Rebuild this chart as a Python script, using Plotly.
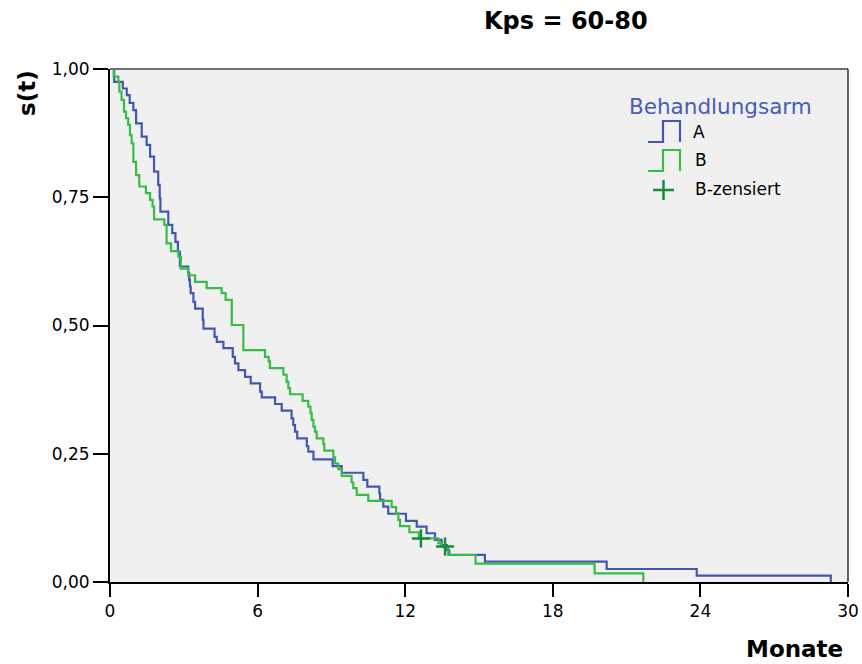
import plotly.graph_objects as go

# ---------------- data ----------------
# Arm A: event times (months) and survival after each step
a_time = [0, 0.17, 0.52, 0.68, 0.80, 0.95, 1.06, 1.29, 1.49, 1.63, 1.79, 1.96, 2.02, 2.05,
          2.37, 2.53, 2.66, 2.76, 2.84, 3.18, 3.22, 3.25, 3.28, 3.39, 3.46, 3.77, 3.80,
          4.25, 4.34, 4.61, 4.99, 5.08, 5.22, 5.49, 5.72, 6.10, 6.17, 6.71, 6.98,
          7.38, 7.45, 7.52, 7.61, 8.00, 8.06, 8.27, 9.05, 9.42, 10.30, 10.46, 10.95,
          10.98, 11.11, 11.31, 12.03, 12.47, 12.87, 13.21, 13.48, 13.69, 13.79,
          15.24, 20.19, 23.85, 29.30]
a_surv = [1.0, 0.975, 0.962, 0.949, 0.934, 0.920, 0.894, 0.868, 0.852, 0.829, 0.800, 0.774, 0.748, 0.722,
          0.696, 0.680, 0.663, 0.644, 0.615, 0.602, 0.589, 0.576, 0.563, 0.546, 0.533, 0.511, 0.494,
          0.478, 0.468, 0.456, 0.439, 0.426, 0.413, 0.400, 0.387, 0.371, 0.360, 0.347, 0.334,
          0.319, 0.306, 0.293, 0.280, 0.265, 0.254, 0.239, 0.226, 0.213, 0.199, 0.186, 0.173,
          0.160, 0.147, 0.133, 0.119, 0.108, 0.095, 0.082, 0.072, 0.062, 0.053,
          0.0396, 0.0253, 0.0123, 0.0]

# Arm B
b_time = [0, 0.15, 0.34, 0.38, 0.47, 0.57, 0.65, 0.74, 0.81, 0.88, 0.95, 1.06, 1.19, 1.46, 1.63,
          1.73, 1.79, 2.21, 2.30, 2.48, 2.78, 2.88, 3.18, 3.46, 3.93, 4.54, 4.70, 4.95, 5.42,
          6.30, 6.45, 6.50, 7.05, 7.18, 7.25, 7.32, 7.83, 8.06, 8.15, 8.20, 8.27, 8.33, 8.40,
          8.67, 8.71, 9.08, 9.15, 9.28, 9.42, 9.82, 9.89, 10.03, 10.50, 11.45, 11.63, 11.72,
          11.79, 12.17, 12.55, 13.35, 13.48, 13.75, 14.86, 19.70, 21.68]
b_surv = [1.0, 0.985, 0.975, 0.956, 0.940, 0.917, 0.904, 0.891, 0.871, 0.855, 0.819, 0.793, 0.771, 0.758, 0.745,
          0.732, 0.707, 0.696, 0.660, 0.645, 0.634, 0.611, 0.598, 0.585, 0.573, 0.563, 0.550, 0.501, 0.452,
          0.439, 0.430, 0.417, 0.404, 0.390, 0.378, 0.366, 0.353, 0.342, 0.329, 0.316, 0.303, 0.293, 0.280,
          0.269, 0.256, 0.243, 0.231, 0.220, 0.207, 0.194, 0.183, 0.170, 0.158, 0.146, 0.134, 0.121,
          0.109, 0.097, 0.085, 0.0754, 0.069, 0.0526, 0.036, 0.017, 0.0]

# Censored observations in arm B
b_cens_time = [12.64, 13.62]
b_cens_surv = [0.085, 0.069]

x_ticks = [0, 6, 12, 18, 24, 30]
y_ticks = [0, 0.25, 0.5, 0.75, 1.0]
y_ticktext = ["0,00", "0,25", "0,50", "0,75", "1,00"]

title_text = "Kps = 60-80"
x_label = "Monate"
y_label = "s(t)"
legend_title = "Behandlungsarm"
legend_labels = ["A", "B", "B-zensiert"]

# ---------------- style ----------------
BLUE = "#4457b0"
GREEN = "#38bc48"
DGREEN = "#1b8a3e"
FONT = "DejaVu Sans"

W, H = 862, 664
L, R, T, B = 110, 848, 69, 582


def px(xp):
    return (xp - L) / (R - L)


def py(yp):
    return (B - yp) / (B - T)


fig = go.Figure()
fig.add_trace(go.Scatter(x=a_time, y=a_surv, mode="lines", line=dict(color=BLUE, width=2.2, shape="hv"),
                         showlegend=False, name=legend_labels[0]))
fig.add_trace(go.Scatter(x=b_time, y=b_surv, mode="lines", line=dict(color=GREEN, width=2.2, shape="hv"),
                         showlegend=False, name=legend_labels[1]))
fig.add_trace(go.Scatter(x=b_cens_time, y=b_cens_surv, mode="markers",
                         marker=dict(symbol="cross-thin", size=13, line=dict(color=DGREEN, width=2.5)),
                         showlegend=False, name=legend_labels[2]))

shapes = []
# plot frame: top gray, right dark
shapes.append(dict(type="line", xref="paper", yref="paper", x0=0, x1=1, y0=1, y1=1,
                   line=dict(color="#707070", width=2), layer="above"))
shapes.append(dict(type="line", xref="paper", yref="paper", x0=1, x1=1, y0=0, y1=1,
                   line=dict(color="#303030", width=1.5), layer="above"))


def step_icon(y_bot, y_top, color):
    p = (f"M {px(648)},{py(y_bot)} L {px(663)},{py(y_bot)} L {px(663)},{py(y_top)} "
         f"L {px(680)},{py(y_top)} L {px(680)},{py(y_bot)}")
    return dict(type="path", xref="paper", yref="paper", path=p, line=dict(color=color, width=2.2))


shapes.append(step_icon(142, 121, BLUE))
shapes.append(step_icon(171, 150, GREEN))
shapes.append(dict(type="line", xref="paper", yref="paper", x0=px(653), x1=px(674), y0=py(190), y1=py(190),
                   line=dict(color=DGREEN, width=2.5)))
shapes.append(dict(type="line", xref="paper", yref="paper", x0=px(663.5), x1=px(663.5), y0=py(180), y1=py(200),
                   line=dict(color=DGREEN, width=2.5)))

annotations = [
    dict(text=f"<b>{title_text}</b>", xref="paper", yref="paper", x=px(565.5), y=py(21),
         xanchor="center", yanchor="middle", showarrow=False, font=dict(family=FONT, size=24, color="black")),
    dict(text=f"<b>{x_label}</b>", xref="paper", yref="paper", x=px(794), y=py(649),
         xanchor="center", yanchor="middle", showarrow=False, font=dict(family=FONT, size=23, color="black")),
    dict(text=f"<b>{y_label}</b>", xref="paper", yref="paper", x=px(27), y=py(93), textangle=-90,
         xanchor="center", yanchor="middle", showarrow=False, font=dict(family=FONT, size=23, color="black")),
    dict(text=legend_title, xref="paper", yref="paper", x=px(720), y=py(106),
         xanchor="center", yanchor="middle", showarrow=False, font=dict(family=FONT, size=21.5, color="#4a5cb4")),
    dict(text=legend_labels[0], xref="paper", yref="paper", x=px(691), y=py(132),
         xanchor="left", yanchor="middle", showarrow=False, font=dict(family=FONT, size=17, color="black")),
    dict(text=legend_labels[1], xref="paper", yref="paper", x=px(693), y=py(160),
         xanchor="left", yanchor="middle", showarrow=False, font=dict(family=FONT, size=17, color="black")),
    dict(text=legend_labels[2], xref="paper", yref="paper", x=px(693), y=py(189),
         xanchor="left", yanchor="middle", showarrow=False, font=dict(family=FONT, size=17, color="black")),
]

fig.update_layout(
    width=W, height=H,
    margin=dict(l=L, r=W - R, t=T, b=H - B, pad=0, autoexpand=False),
    paper_bgcolor="white",
    plot_bgcolor="#f0f0f0",
    shapes=shapes,
    annotations=annotations,
    font=dict(family=FONT, color="black"),
)
fig.update_xaxes(range=[0, 30], tickvals=x_ticks, ticktext=[str(v) for v in x_ticks],
                 ticks="outside", ticklen=13, tickwidth=2, tickcolor="black", automargin=False,
                 showline=True, linecolor="black", linewidth=2, showgrid=False, zeroline=False,
                 tickfont=dict(family=FONT, size=17, color="black"), fixedrange=True)
fig.update_yaxes(range=[0, 1], tickvals=y_ticks, ticktext=y_ticktext,
                 ticks="outside", ticklen=15, tickwidth=2, tickcolor="black", automargin=False,
                 showline=True, linecolor="black", linewidth=2, showgrid=False, zeroline=False,
                 tickfont=dict(family=FONT, size=17, color="black"), fixedrange=True)

fig.write_html("out.html")
